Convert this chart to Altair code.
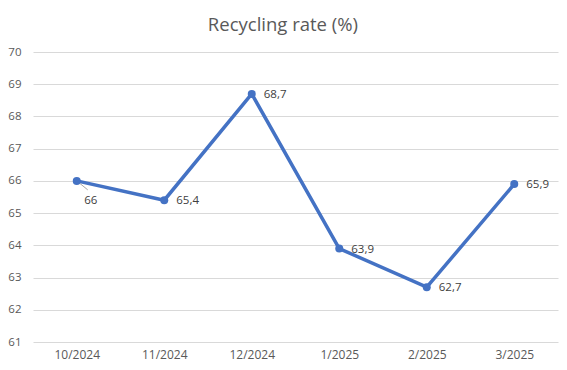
import altair as alt
import pandas as pd

months = ["10/2024", "11/2024", "12/2024", "1/2025", "2/2025", "3/2025"]
rates = [66.0, 65.4, 68.7, 63.9, 62.7, 65.9]
# label placement: 0 = right of point, 1 = below-right with leader line
below = [1, 0, 0, 0, 0, 0]

df = pd.DataFrame({"month": months, "rate": rates, "below": below})
df["label"] = [("%g" % v).replace(".", ",") for v in rates]

FONT = "Open Sans"
GREY = "#595959"
BLUE = "#4472C4"

x = alt.X("month:N", sort=months, title=None,
          scale=alt.Scale(type="point", padding=0.5),
          axis=alt.Axis(labelAngle=0, ticks=False, domain=False, grid=False,
                        labelPadding=7, labelFontSize=12, labelColor=GREY,
                        labelFont=FONT))
y = alt.Y("rate:Q", title=None,
          scale=alt.Scale(domain=[61, 70], nice=False, zero=False),
          axis=alt.Axis(values=list(range(61, 71)), ticks=False, domain=False,
                        labelPadding=12, labelFontSize=11.5, labelColor=GREY,
                        labelFont=FONT, gridColor="#D9D9D9", gridWidth=1))

base = alt.Chart(df)

line = base.mark_line(color=BLUE, strokeWidth=3.5).encode(x=x, y=y)
points = base.mark_circle(color=BLUE, size=64, opacity=1).encode(x=x, y=y)

labels_right = base.transform_filter("datum.below == 0").mark_text(
    align="left", baseline="middle", dx=12, dy=1, fontSize=11.5, color="#404040", font=FONT
).encode(x=x, y=y, text="label:N")

labels_below = base.transform_filter("datum.below == 1").mark_text(
    align="center", baseline="middle", dx=14, dy=20, fontSize=11.5, color="#404040", font=FONT
).encode(x=x, y=y, text="label:N")

leader = base.transform_filter("datum.below == 1").mark_rule(
    color="#A6A6A6", strokeWidth=1, x2Offset=11, y2Offset=9
).encode(x=x, y=y, x2=alt.X2("month:N"), y2=alt.Y2("rate:Q"))

chart = alt.layer(line, leader, points, labels_right, labels_below).properties(
    width=525, height=290,
    background="white",
    title=alt.TitleParams("Recycling rate (%)", fontSize=18.5, font=FONT, color=GREY,
                          fontWeight="normal", anchor="middle", frame="bounds",
                          offset=12),
    autosize=alt.AutoSizeParams(type="none"),
    padding={"left": 25, "top": 44, "right": 1, "bottom": 25},
).configure_view(stroke=None)

chart.save("out.html", embed_options={"renderer": "svg", "actions": False})
